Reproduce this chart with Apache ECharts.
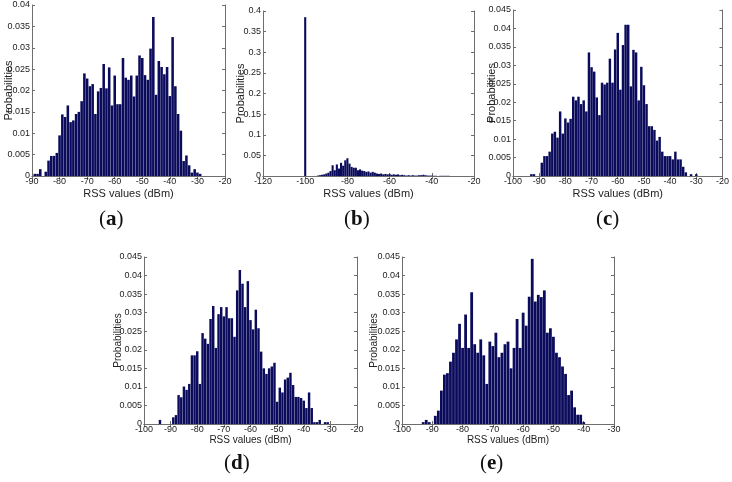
<!DOCTYPE html>
<html>
<head>
<meta charset="utf-8">
<script src="https://cdn.jsdelivr.net/npm/echarts@6/dist/echarts.min.js"></script>
<style>
  html, body { margin: 0; padding: 0; background: #fff; }
  #chart { width: 732px; height: 482px; }
</style>
</head>
<body>
<div id="chart"></div>
<script>
// histogram bins are 1 dBm wide, first bin given by start*
const startA = -89;
const probA = [0.0005, 0.0005, 0.0016, 0, 0.001, 0.0036, 0.0047, 0.0047, 0.0054, 0.0095,
  0.0144, 0.0138, 0.0165, 0.0126, 0.013, 0.0145, 0.015, 0.0175, 0.024, 0.0228,
  0.021, 0.0215, 0.0145, 0.0198, 0.0206, 0.0262, 0.0205, 0.0254, 0.0165, 0.0235,
  0.0168, 0.0168, 0.0276, 0.023, 0.0225, 0.0235, 0.0186, 0.0235, 0.0282, 0.0276,
  0.0236, 0.0225, 0.0298, 0.0372, 0.019, 0.0269, 0.0255, 0.0238, 0.0255, 0.0187,
  0.0325, 0.021, 0.0145, 0.0106, 0.0035, 0.0048, 0.0025, 0.0008, 0.0016, 0.0008, 0.0005];

const startB = -100;
const probB = [0.385, 0, 0, 0, 0, 0, 0.001, 0.002, 0.003, 0.004,
  0.006, 0.008, 0.012, 0.026, 0.014, 0.028, 0.018, 0.032, 0.025, 0.038,
  0.043, 0.03, 0.022, 0.02, 0.02, 0.014, 0.016, 0.013, 0.012, 0.01,
  0.011, 0.008, 0.01, 0.008, 0.006, 0.005, 0.006, 0.004, 0.005, 0.004,
  0.005, 0.003, 0.004, 0.003, 0.004, 0.002, 0.003, 0.002, 0.001, 0.002,
  0.001, 0.002, 0.001, 0.001, 0.002, 0.002, 0.003, 0.002, 0.001, 0.001,
  0.001, 0.0005, 0.0005, 0, 0.0005, 0.0005, 0.0005, 0.0005, 0.0005];

const startC = -93;
const probC = [0.0005, 0.0005, 0, 0, 0.0036, 0.0054, 0.0054, 0.0066, 0.0115, 0.012,
  0.0104, 0.0175, 0.0115, 0.0156, 0.0145, 0.0155, 0.0215, 0.0205, 0.0215, 0.0195,
  0.0205, 0.0175, 0.0335, 0.0295, 0.0283, 0.0213, 0.0165, 0.0253, 0.0248, 0.0253,
  0.0318, 0.0253, 0.0343, 0.0388, 0.0234, 0.0355, 0.041, 0.041, 0.0243, 0.0342,
  0.0335, 0.0205, 0.0296, 0.0246, 0.0195, 0.0135, 0.0135, 0.0125, 0.0096, 0.0106,
  0.0066, 0.0054, 0.0054, 0.0054, 0.0045, 0.0066, 0.0045, 0.0045, 0.0025, 0.001,
  0, 0.0005, 0, 0.0005];

const startD = -94;
const probD = [0.0011, 0, 0, 0, 0, 0.0018, 0.0024, 0.0078, 0.0072, 0.0101,
  0.0092, 0.0108, 0.0185, 0.0185, 0.0196, 0.0108, 0.0245, 0.023, 0.0216, 0.0283,
  0.0318, 0.0205, 0.0296, 0.0315, 0.029, 0.0315, 0.0285, 0.0285, 0.0235, 0.036,
  0.0415, 0.0378, 0.0315, 0.0385, 0.028, 0.0255, 0.0308, 0.0258, 0.0195, 0.015,
  0.0135, 0.015, 0.0155, 0.0165, 0.006, 0.0098, 0.0085, 0.012, 0.0125, 0.0138,
  0.0105, 0.0073, 0.0073, 0.007, 0.0063, 0.0043, 0.0085, 0.0043, 0.0005, 0.0005,
  0.0011, 0, 0.0005, 0.0005];

const startE = -93;
const probE = [0.0005, 0.0011, 0.0005, 0, 0.0022, 0.0036, 0.009, 0.0133, 0.0137, 0.0168,
  0.0192, 0.0228, 0.027, 0.0205, 0.0295, 0.0205, 0.0355, 0.0215, 0.0192, 0.0228,
  0.0185, 0.0108, 0.0222, 0.021, 0.0246, 0.018, 0.0192, 0.0215, 0.0222, 0.015,
  0.0205, 0.0283, 0.0205, 0.03, 0.0265, 0.0343, 0.0445, 0.033, 0.0348, 0.0342,
  0.036, 0.0246, 0.0258, 0.0235, 0.0192, 0.018, 0.0155, 0.0135, 0.0078, 0.009,
  0.0045, 0.0025, 0.0025, 0.0005];

const panels = [
  { start: startA, prob: probA, xMin: -90, xMax: -20, xStep: 10, yMax: 0.04, yStep: 0.005,
    left: 32, top: 5, width: 193, height: 171, barW: 2.55, yGap: 18, label: 'a', lx: 112, ly: 223 },
  { start: startB, prob: probB, xMin: -120, xMax: -20, xStep: 20, yMax: 0.4, yStep: 0.05,
    left: 263, top: 11, width: 211, height: 165, barW: 2.1, yGap: 17, label: 'b', lx: 357, ly: 223 },
  { start: startC, prob: probC, xMin: -100, xMax: -20, xStep: 10, yMax: 0.045, yStep: 0.005,
    left: 513, top: 10, width: 214, height: 166, barW: 2.45, yGap: 16, label: 'c', lx: 609, ly: 223 },
  { start: startD, prob: probD, xMin: -100, xMax: -20, xStep: 10, yMax: 0.045, yStep: 0.005,
    left: 144, top: 257, width: 213, height: 167, barW: 2.45, yGap: 21, label: 'd', lx: 237, ly: 467 },
  { start: startE, prob: probE, xMin: -100, xMax: -30, xStep: 10, yMax: 0.045, yStep: 0.005,
    left: 402, top: 257, width: 212, height: 167, barW: 2.8, yGap: 23, label: 'e', lx: 493, ly: 467 }
];

const boxColor = '#6e6e6e';
const tickFont = { color: '#222', fontSize: 9, fontFamily: 'Liberation Sans, Arial, sans-serif' };

const grid = [];
const xAxis = [];
const yAxis = [];
const series = [];
const graphic = [];

panels.forEach((p, i) => {
  grid.push({ left: p.left, top: p.top, width: p.width, height: p.height, containLabel: false });

  // bottom + left axes carry the labels
  xAxis.push({
    type: 'value', gridIndex: i, min: p.xMin, max: p.xMax, interval: p.xStep,
    position: 'bottom',
    name: 'RSS values (dBm)', nameLocation: 'middle', nameGap: i < 3 ? 12 : 10,
    nameTextStyle: { color: '#222', fontSize: i < 3 ? 11 : 10, fontFamily: 'Liberation Sans, Arial' },
    axisLine: { lineStyle: { color: boxColor } },
    axisTick: { inside: true, length: 3, lineStyle: { color: boxColor } },
    axisLabel: Object.assign({ margin: 1 }, tickFont),
    splitLine: { show: false }
  });
  yAxis.push({
    type: 'value', gridIndex: i, min: 0, max: p.yMax, interval: p.yStep,
    position: 'left',
    name: 'Probabilities', nameLocation: 'middle', nameGap: p.yGap, nameMoveOverlap: false,
    nameTextStyle: { color: '#222', fontSize: i < 3 ? 11 : 10, fontFamily: 'Liberation Sans, Arial' },
    axisLine: { show: true, lineStyle: { color: boxColor } },
    axisTick: { show: true, inside: true, length: 3, lineStyle: { color: boxColor } },
    axisLabel: Object.assign({ margin: 2 }, tickFont),
    splitLine: { show: false }
  });
  series.push({
    type: 'bar', xAxisIndex: i * 2, yAxisIndex: i * 2,
    barWidth: p.barW,
    itemStyle: { color: '#0b0b5c' },
    data: p.prob.map((v, k) => [p.start + k, v]),
    silent: true, animation: false
  });

  // top + right axes close the box
  xAxis.push({
    type: 'value', gridIndex: i, min: p.xMin, max: p.xMax, interval: p.xStep,
    position: 'top',
    axisLine: { lineStyle: { color: boxColor } },
    axisTick: { inside: true, length: 3, lineStyle: { color: boxColor } },
    axisLabel: { show: false }, splitLine: { show: false }
  });
  yAxis.push({
    type: 'value', gridIndex: i, min: 0, max: p.yMax, interval: p.yStep,
    position: 'right',
    axisLine: { show: true, lineStyle: { color: boxColor } },
    axisTick: { show: true, inside: true, length: 3, lineStyle: { color: boxColor } },
    axisLabel: { show: false }, splitLine: { show: false }
  });

  graphic.push({
    type: 'text', left: p.lx - 13, top: p.ly - 14,
    style: {
      text: '{p|(}{l|' + p.label + '}{p|)}',
      rich: {
        p: { fontSize: 21, fontFamily: 'Liberation Serif, Times New Roman, serif', fill: '#111' },
        l: { fontSize: 21, fontWeight: 'bold', fontFamily: 'Liberation Serif, Times New Roman, serif', fill: '#111' }
      }
    }
  });
});

const myChart = echarts.init(document.getElementById('chart'));
myChart.setOption({
  backgroundColor: '#fff',
  animation: false,
  grid: grid,
  xAxis: xAxis,
  yAxis: yAxis,
  series: series,
  graphic: graphic
});
</script>
</body>
</html>
